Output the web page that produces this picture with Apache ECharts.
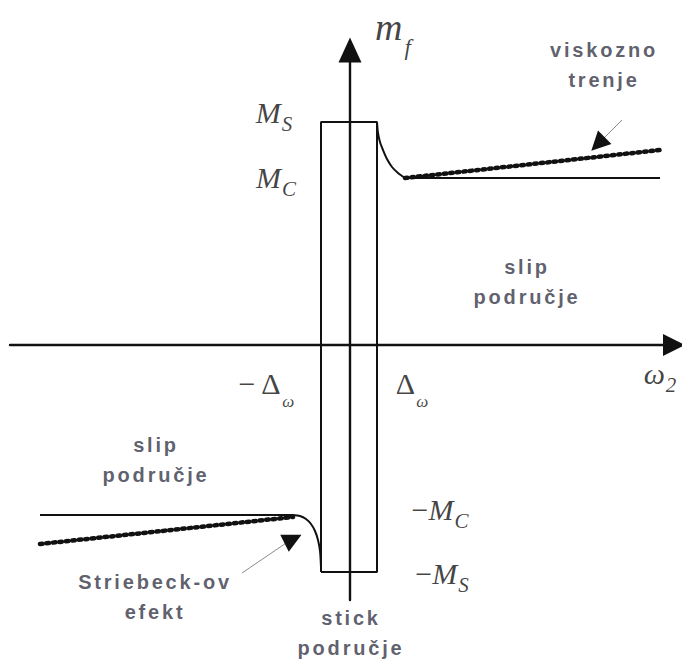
<!DOCTYPE html>
<html>
<head>
<meta charset="utf-8">
<script src="https://cdn.jsdelivr.net/npm/echarts@6/dist/echarts.min.js"></script>
<style>
  html, body { margin: 0; padding: 0; background: #fff; }
  #main { width: 682px; height: 662px; }
  /* the bold annotations are letter-spaced in the original */
  #main text[style*="bold"] { letter-spacing: 2.8px; }
</style>
</head>
<body>
<div id="main"></div>
<script>
// x = omega (0 on the m_f axis), y = m_f (0 on the omega axis)
const stickBox = [[-29, -227], [-29, 223], [27, 223], [27, -227], [-29, -227]];
const upperStriebeck = [[27, 223], [28, 212], [30, 203], [33, 195], [37, 186], [42, 178], [48, 172], [55, 167]];
const upperCoulomb = [[55, 167], [310, 167]];
const upperViscous = [[55, 167], [310, 195]];
const lowerStriebeck = [[-57, -170], [-50, -171], [-44, -174], [-39, -179], [-35, -186], [-32, -195], [-30, -206], [-29, -222]];
const lowerCoulomb = [[-310, -170], [-57, -170]];
const lowerViscous = [[-310, -199], [-57, -172]];

// callout arrows: gray shaft + black head
const pointerShafts = [[[272, 225], [249, 202]], [[-108, -228], [-58, -194]]];
const pointerHeads = [[[255, 208], [248, 201]], [[-63, -197], [-57, -194]]];

// axis / level labels (rich text)
const mathLabels = [
  [43, 318, '{mv|m}{mf|f}'],
  [-76, 233, '{v|M}{s|S}'],
  [-74, 168, '{v|M}{s|C}'],
  [90, -164, '{o|−}{v|M}{s|C}'],
  [92, -228, '{o|−}{v|M}{s|S}'],
  [-84, -38, '{o|− Δ}{w|ω}'],
  [62, -38, '{o|Δ}{w|ω}'],
  [310, -28, '{v|ω}{s|2}']
];

// region notes
const noteLabels = [
  [254, 280, 'viskozno\ntrenje'],
  [177, 63, 'slip\npodručje'],
  [-194, -115, 'slip\npodručje'],
  [-195, -252, 'Striebeck-ov\nefekt'],
  [1, -288, 'stick\npodručje']
];

const ink = '#111';
const serif = 'Liberation Serif';

function curve(name, data, extra) {
  return Object.assign({
    name: name,
    type: 'line',
    data: data,
    showSymbol: false,
    symbol: 'none',
    clip: false,
    silent: true,
    lineStyle: { color: ink, width: 2 }
  }, extra || {});
}

const chart = echarts.init(document.getElementById('main'), null, { renderer: 'svg' });

const option = {
  animation: false,
  backgroundColor: '#fff',
  grid: { left: 10, right: 8, top: 50, bottom: 62 },
  xAxis: {
    type: 'value',
    min: -340,
    max: 324,
    axisLine: { onZero: true, symbol: ['none', 'triangle'], symbolSize: [22, 22], lineStyle: { color: ink, width: 2.4 } },
    axisTick: { show: false },
    axisLabel: { show: false },
    splitLine: { show: false }
  },
  yAxis: {
    type: 'value',
    min: -255,
    max: 295,
    axisLine: { onZero: true, symbol: ['none', 'triangle'], symbolSize: [23, 25], lineStyle: { color: ink, width: 2.4 } },
    axisTick: { show: false },
    axisLabel: { show: false },
    splitLine: { show: false }
  },
  series: [
    curve('stick', stickBox),
    curve('striebeck+', upperStriebeck, { smooth: 0.3 }),
    curve('coulomb+', upperCoulomb),
    curve('viscous+', upperViscous, { lineStyle: { color: ink, width: 4.5, type: [2.5, 4], cap: 'round' } }),
    curve('striebeck-', lowerStriebeck, { smooth: 0.3 }),
    curve('coulomb-', lowerCoulomb),
    curve('viscous-', lowerViscous, { lineStyle: { color: ink, width: 4.5, type: [2.5, 4], cap: 'round' } }),
    {
      type: 'lines',
      coordinateSystem: 'cartesian2d',
      silent: true,
      symbol: 'none',
      lineStyle: { color: '#8a8a8a', width: 1, opacity: 1 },
      data: pointerShafts.map(c => ({ coords: c }))
    },
    {
      type: 'lines',
      coordinateSystem: 'cartesian2d',
      silent: true,
      symbol: ['none', 'triangle'],
      symbolSize: [14, 19],
      lineStyle: { color: ink, width: 1, opacity: 1 },
      data: pointerHeads.map(c => ({ coords: c }))
    },
    {
      type: 'scatter',
      silent: true,
      clip: false,
      symbolSize: 0,
      data: mathLabels.map(d => [d[0], d[1]]),
      label: {
        show: true,
        position: 'inside',
        color: ink,
        formatter: p => mathLabels[p.dataIndex][2],
        rich: {
          v: { fontFamily: serif, fontStyle: 'italic', fontSize: 30, color: ink },
          s: { fontFamily: serif, fontStyle: 'italic', fontSize: 21, color: ink, padding: [24, 0, 0, 1] },
          o: { fontFamily: serif, fontSize: 30, color: ink },
          w: { fontFamily: serif, fontStyle: 'italic', fontSize: 17, color: ink, padding: [36, 0, 0, 1] },
          mv: { fontFamily: serif, fontStyle: 'italic', fontSize: 38, color: ink },
          mf: { fontFamily: serif, fontStyle: 'italic', fontSize: 23, color: ink, padding: [40, 0, 0, 2] }
        }
      }
    },
    {
      type: 'scatter',
      silent: true,
      clip: false,
      symbolSize: 0,
      data: noteLabels.map(d => [d[0], d[1]]),
      label: {
        show: true,
        position: 'inside',
        formatter: p => noteLabels[p.dataIndex][2],
        fontFamily: 'Liberation Sans',
        fontWeight: 'bold',
        fontSize: 20,
        lineHeight: 30,
        align: 'center',
        color: '#363648'
      }
    }
  ]
};

chart.setOption(option);
</script>
</body>
</html>
